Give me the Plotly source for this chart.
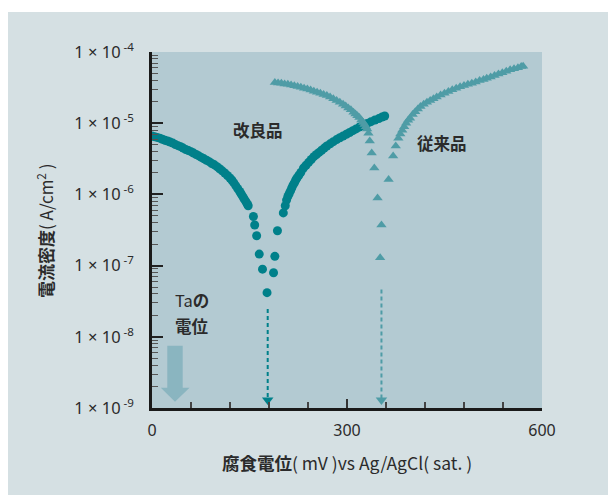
import plotly.graph_objects as go

# ---- data ----
# 改良品 (improved): corrosion potential (mV) vs current density (A/cm2)
imp_mv = [0, 4, 8, 12, 16, 20, 24, 28, 32, 36, 40, 44, 48, 52, 56, 60, 64, 68, 72, 76,
          80, 84, 88, 92, 96, 100, 104, 108, 112, 116, 120, 123, 126, 129, 132, 135, 137,
          139, 141, 143, 145, 147, 148,
          156, 158, 161, 165, 170, 177, 187, 189, 193, 202,
          205, 207, 209, 211, 213, 215, 217, 219, 221, 223, 226, 229, 233, 237, 241, 245,
          249, 253, 257, 261, 265, 269, 274, 279, 284, 289, 294, 299, 304, 309, 314, 319,
          325, 331, 337, 343, 349, 354, 358]
imp_i = [6.61e-6, 6.46e-6, 6.31e-6, 6.17e-6, 5.96e-6, 5.75e-6, 5.62e-6, 5.43e-6, 5.25e-6,
         5.01e-6, 4.84e-6, 4.68e-6, 4.47e-6, 4.27e-6, 4.12e-6, 3.98e-6, 3.80e-6, 3.63e-6,
         3.47e-6, 3.31e-6, 3.16e-6, 3.02e-6, 2.88e-6, 2.72e-6, 2.60e-6, 2.45e-6, 2.29e-6,
         2.14e-6, 2.00e-6, 1.84e-6, 1.70e-6, 1.58e-6, 1.45e-6, 1.32e-6, 1.20e-6, 1.10e-6,
         1.02e-6, 9.55e-7, 8.91e-7, 8.32e-7, 7.76e-7, 7.24e-7, 6.92e-7,
         4.90e-7, 3.72e-7, 2.63e-7, 1.45e-7, 8.91e-8, 4.17e-8, 7.94e-8, 1.35e-7, 3.09e-7, 5.50e-7,
         6.92e-7, 8.32e-7, 9.33e-7, 1.02e-6, 1.12e-6, 1.23e-6, 1.35e-6, 1.45e-6, 1.58e-6,
         1.70e-6, 1.86e-6, 2.04e-6, 2.34e-6, 2.57e-6, 2.82e-6, 3.09e-6, 3.39e-6, 3.63e-6,
         3.89e-6, 4.17e-6, 4.47e-6, 4.79e-6, 5.13e-6, 5.50e-6, 5.89e-6, 6.24e-6, 6.61e-6,
         7.00e-6, 7.41e-6, 7.85e-6, 8.32e-6, 8.81e-6, 9.33e-6, 9.89e-6, 1.05e-5, 1.11e-5,
         1.16e-5, 1.22e-5, 1.26e-5]

# 従来品 (conventional)
con_mv = [189, 194, 199, 204, 209, 214, 219, 224, 229, 234, 239, 244, 249, 254, 259, 264,
          269, 274, 279, 284, 289, 294, 298, 302, 306, 310, 313, 316, 319, 322, 325, 327,
          329, 331,
          333, 335, 338, 342, 347, 353, 351, 364, 371, 375, 379,
          382, 385, 388, 391, 394, 397, 401, 405, 409, 413, 418, 423, 428, 433, 438, 444,
          450, 456, 462, 468, 474, 480, 486, 492, 498, 504, 510, 515, 521, 527, 533, 539,
          545, 551, 557, 563, 568, 571]
con_i = [3.72e-5, 3.67e-5, 3.63e-5, 3.55e-5, 3.51e-5, 3.43e-5, 3.35e-5, 3.27e-5, 3.20e-5,
         3.09e-5, 3.02e-5, 2.92e-5, 2.82e-5, 2.72e-5, 2.63e-5, 2.54e-5, 2.45e-5, 2.34e-5,
         2.21e-5, 2.09e-5, 1.97e-5, 1.84e-5, 1.74e-5, 1.64e-5, 1.55e-5, 1.43e-5, 1.35e-5,
         1.27e-5, 1.20e-5, 1.11e-5, 1.02e-5, 9.55e-6, 8.91e-6, 8.32e-6,
         7.24e-6, 5.62e-6, 3.80e-6, 2.34e-6, 8.91e-7, 3.72e-7, 1.29e-7, 1.62e-6, 3.47e-6,
         4.79e-6, 6.17e-6,
         7.08e-6, 7.94e-6, 8.91e-6, 1.00e-5, 1.10e-5, 1.17e-5, 1.32e-5, 1.45e-5, 1.58e-5,
         1.72e-5, 1.84e-5, 1.97e-5, 2.09e-5, 2.21e-5, 2.34e-5, 2.48e-5, 2.63e-5, 2.79e-5,
         2.95e-5, 3.09e-5, 3.24e-5, 3.39e-5, 3.51e-5, 3.63e-5, 3.80e-5, 3.98e-5, 4.12e-5,
         4.27e-5, 4.47e-5, 4.68e-5, 4.90e-5, 5.13e-5, 5.37e-5, 5.62e-5, 5.82e-5, 6.03e-5,
         6.24e-5, 6.31e-5]

# corrosion potentials marked by the dashed arrows (mV) and where each dashed line starts
ecorr_mv = [178, 353]
ecorr_top = [2.45e-8, 4.6e-8]
ecorr_bottom = 1.3e-9

series_names = ["改良品", "従来品"]
y_exponents = [-9, -8, -7, -6, -5, -4]
y_tickvals = [10.0 ** e for e in y_exponents]
y_ticktext = ["1 × 10<sup> -%d</sup>" % (-e) for e in y_exponents]
x_tickvals = [0, 300, 600]

C_IMP = "#00808a"
C_CON = "#4f9ca6"
PANEL = "#d5e0e3"
PLOTBG = "#b3cad2"
TXT = "#2b2b2b"
SANS = "Noto Sans, Liberation Sans, sans-serif"
JP = "Noto Sans CJK JP, Noto Sans, sans-serif"

fig = go.Figure()

fig.add_trace(go.Scatter(x=imp_mv, y=imp_i, mode="markers", name=series_names[0],
                         marker=dict(symbol="circle", size=9, color=C_IMP, line=dict(width=0))))
fig.add_trace(go.Scatter(x=con_mv, y=con_i, mode="markers", name=series_names[1],
                         marker=dict(symbol="triangle-up", size=9, color=C_CON, line=dict(width=0))))

for xv, top, col in zip(ecorr_mv, ecorr_top, [C_IMP, C_CON]):
    fig.add_trace(go.Scatter(x=[xv, xv], y=[top, ecorr_bottom], mode="lines",
                             line=dict(color=col, width=2, dash="4px,3px"),
                             showlegend=False, hoverinfo="skip"))
    fig.add_trace(go.Scatter(x=[xv], y=[ecorr_bottom], mode="markers",
                             marker=dict(symbol="triangle-down", size=10, color=col),
                             showlegend=False, hoverinfo="skip"))

# the page body has an 8px margin: figure is placed at (8, 8) in the window
OFF = 8
W, H = 608, 487
L, R, T, B = 152 - OFF, 74, 52 - OFF, 87
pw, ph = W - L - R, H - T - B


def px(xp):  # page pixel -> paper x
    return (xp - OFF - L) / pw


def py(yp):  # page pixel -> paper y
    return (H - B - (yp - OFF)) / ph


shapes = [
    dict(type="rect", xref="paper", yref="paper", x0=px(8), x1=px(640), y0=py(520), y1=py(12),
         fillcolor=PANEL, line=dict(width=0), layer="below"),
    dict(type="rect", xref="paper", yref="paper", x0=0, x1=1, y0=0, y1=1,
         fillcolor=PLOTBG, line=dict(width=0), layer="below"),
    # big light arrow (Ta potential lies below)
    dict(type="path", xref="paper", yref="paper",
         path="M {a},{t} L {b},{t} L {b},{h} L {c},{h} L {m},{tip} L {d},{h} L {a},{h} Z".format(
             a=px(167.3), b=px(182.7), c=px(189.5), d=px(160.8), m=px(175), t=py(345.7),
             h=py(387.7), tip=py(401.7)),
         fillcolor="#8ab5c0", line=dict(width=0), layer="above"),
]


def ann(text, x, y, size, **kw):
    d = dict(text=text, xref="paper", yref="paper", x=px(x), y=py(y), showarrow=False,
             xanchor="center", yanchor="middle", font=dict(family=JP, size=size, color=TXT))
    d.update(kw)
    return d


annotations = [
    ann("<b>改良品</b>", 258, 130, 16.5),
    ann("<b>従来品</b>", 442, 143, 16.5),
    ann("Ta<b>の</b>", 173, 300, 16.5, xanchor="left"),
    ann("<b>電位</b>", 173, 326, 16.5, xanchor="left"),
    ann("<b>電流密度</b>( A/cm<sup>2</sup> )", 45, 230, 17, textangle=-90),
    ann("<b>腐食電位</b>( mV )vs Ag/AgCl( sat. )", 347, 462, 17.5),
]

fig.update_layout(
    width=W, height=H,
    margin=dict(l=L, r=R, t=T, b=B, pad=0),
    paper_bgcolor="white",
    plot_bgcolor=PLOTBG,
    showlegend=False,
    shapes=shapes,
    annotations=annotations,
    font=dict(family=SANS, size=14, color=TXT),
    xaxis=dict(range=[0, 600], tickvals=x_tickvals, ticks="inside", ticklen=9, tickwidth=1.5,
               tickcolor="#333", showgrid=False, zeroline=False, showline=True,
               linecolor="#1a1a1a", linewidth=2.5, mirror=False,
               tickfont=dict(family=SANS, size=16, color=TXT), ticklabelstandoff=6,
               minor=dict(dtick=60, ticks="inside", ticklen=6, tickwidth=1.5,
                          tickcolor="#444", showgrid=False)),
    yaxis=dict(type="log", range=[-9, -4], tickvals=y_tickvals, ticktext=y_ticktext,
               ticks="inside", ticklen=11, tickwidth=1.5, tickcolor="#222",
               showgrid=False, zeroline=False, showline=True, linecolor="#1a1a1a",
               linewidth=2.5, mirror=False, ticklabelstandoff=12,
               tickfont=dict(family=SANS, size=16.5, color=TXT),
               minor=dict(ticks="inside", ticklen=6, tickwidth=1.2, tickcolor="#555",
                          showgrid=False, dtick="D1")),
)

fig.write_html("out.html")
